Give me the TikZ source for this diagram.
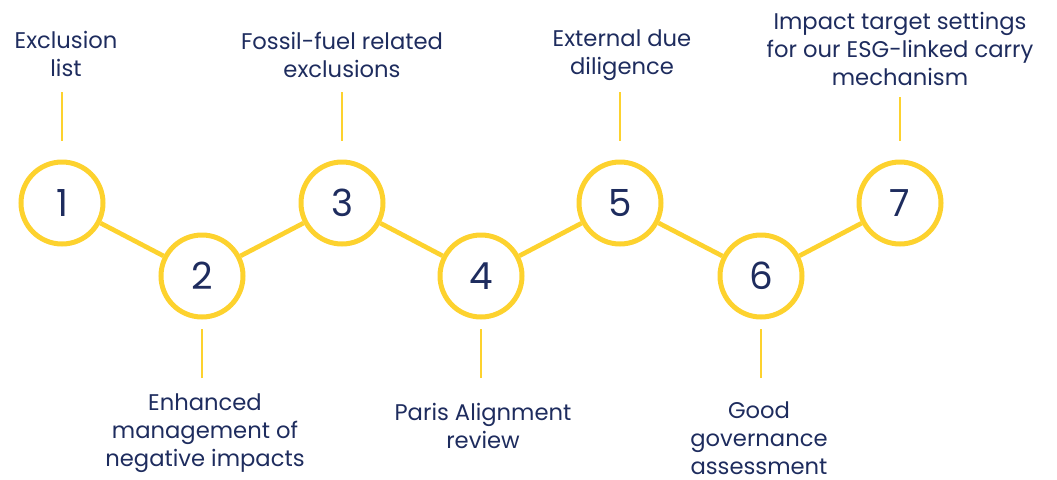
\documentclass[tikz,border=0pt]{standalone}
\usepackage{fontspec}
\setmainfont{Poppins}
\definecolor{stepyellow}{HTML}{FDD22E}
\definecolor{stepnavy}{HTML}{1E2C5E}
\tikzset{
  stepcircle/.style={circle, draw=stepyellow, line width=3.75pt, minimum size=61.5pt,
    inner sep=0pt, text=stepnavy, font=\fontsize{28}{30}\selectfont},
  steplink/.style={draw=stepyellow, line width=3.5pt},
  stepstem/.style={draw=stepyellow, line width=2pt},
  steplabel/.style={align=center, text=stepnavy, inner sep=0pt,
    font=\fontsize{17}{21}\selectfont}
}
\begin{document}
\begin{tikzpicture}[x=0.75pt, y=-0.75pt]
    \useasboundingbox (0,0) rectangle (1057,479);

    % --- 1. Step circles (zig-zag, top and bottom rows) ---
    \node[stepcircle] (c1) at (62,203)  {1};
    \node[stepcircle] (c2) at (202,276) {2};
    \node[stepcircle] (c3) at (342,203) {3};
    \node[stepcircle] (c4) at (481,276) {4};
    \node[stepcircle] (c5) at (620,203) {5};
    \node[stepcircle] (c6) at (761,276) {6};
    \node[stepcircle] (c7) at (900,203) {7};

    % --- 2. Links between the circles ---
    \draw[steplink] (c1) -- (c2) -- (c3) -- (c4) -- (c5) -- (c6) -- (c7);

    % --- 3. Stems towards the labels ---
    \coordinate (s1) at (62,92);
    \coordinate (s2) at (202,378);
    \coordinate (s3) at (342,92);
    \coordinate (s4) at (481,378);
    \coordinate (s5) at (620,92);
    \coordinate (s6) at (761,378);
    \coordinate (s7) at (900,97);
    \foreach \i in {1,3,5,7}
      \draw[stepstem, shorten >=14pt] (s\i) -- (c\i);
    \foreach \i in {2,4,6}
      \draw[stepstem, shorten >=7pt] (s\i) -- (c\i);

    % --- 4. Labels ---
    \node[steplabel] (l1) at (66,54)  {Exclusion\\list};
    \node[steplabel] (l2) at (205,433) {Enhanced\\management of\\negative impacts};
    \node[steplabel] (l3) at (342,55) {Fossil-fuel related\\exclusions};
    \node[steplabel] (l4) at (483,426) {Paris Alignment\\review};
    \node[steplabel] (l5) at (622,55) {External due\\diligence};
    \node[steplabel] (l6) at (759,438) {Good\\governance\\assessment};
    \node[steplabel] (l7) at (900,49) {Impact target settings\\for our ESG-linked carry\\mechanism};

\end{tikzpicture}
\end{document}
